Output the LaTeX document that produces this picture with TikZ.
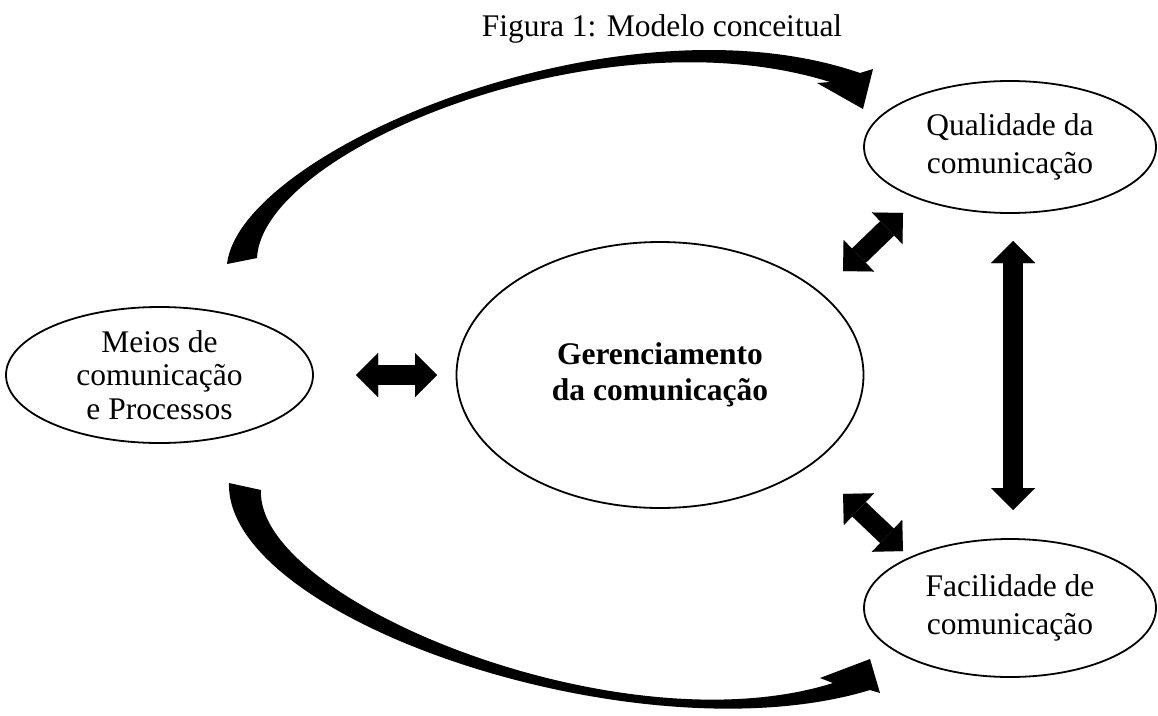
\documentclass[tikz,border=0pt]{standalone}
\usepackage{fontspec}
\setmainfont{Liberation Serif}
\usetikzlibrary{arrows.meta,shapes.geometric}
\begin{document}
\begin{tikzpicture}[x=1pt,y=-1pt,
  oval/.style={ellipse, draw, line width=1.8pt, inner sep=0pt, align=center},
  fat/.style={line width=20pt, {Triangle[width=44pt,length=22pt,line width=0.01pt]}-{Triangle[width=44pt,length=22pt,line width=0.01pt]}},
  blob/.style={fill=black}]
\useasboundingbox (0,0) rectangle (1158,715);
\node[font=\fontsize{31.5}{36}\selectfont, anchor=base, inner sep=0pt] (title) at (662,36) {Figura 1: Modelo conceitual};
\node[oval, minimum width=307pt, minimum height=136pt, font=\fontsize{31.5}{33.3}\selectfont] (meios) at (159.5,375) {Meios de\\comunicação\\e Processos};
\node[oval, minimum width=407pt, minimum height=266pt, font=\fontsize{31.5}{36}\selectfont\bfseries] (ger) at (660,375) {Gerenciamento\\da comunicação};
\node[oval, minimum width=292pt, minimum height=132pt, font=\fontsize{31.5}{38}\selectfont] (qual) at (1010,147) {Qualidade da\\comunicação};
\node[oval, minimum width=292pt, minimum height=138pt, font=\fontsize{31.5}{38}\selectfont] (fac) at (1010,608) {Facilidade de\\comunicação};
% straight double arrows
\coordinate (h1) at (356,375); \coordinate (h2) at (437,375);
\coordinate (v1) at (1013,241); \coordinate (v2) at (1013,510);
\coordinate (d1) at (843,271); \coordinate (d2) at (903,213);
\coordinate (e1) at (843,494); \coordinate (e2) at (903,551);
\draw[fat] (h1) -- (h2);
\draw[fat] (v1) -- (v2);
\draw[fat] (d1) -- (d2);
\draw[fat] (e1) -- (e2);
% top curved arrow
\coordinate (tO0) at (227,264); \coordinate (tI0) at (257,258);
\coordinate (tO1) at (860,73); \coordinate (tI1) at (830,82);
\coordinate (tB1) at (873,69); \coordinate (tB2) at (817,83);
\coordinate (tTip) at (863,109);
\fill[blob] (tO0) .. controls (240,150) and (620,-10) .. (tO1) -- (tB1) -- (tTip) -- (tB2) -- (tI1) .. controls (600,10) and (262,150) .. (tI0) -- cycle;
% bottom curved arrow
\coordinate (bO0) at (229,483); \coordinate (bI0) at (261,490);
\coordinate (bO1) at (870,690); \coordinate (bI1) at (833,683);
\coordinate (bB1) at (880,693); \coordinate (bB2) at (820,678);
\coordinate (bTip) at (870,659);
\fill[blob] (bO0) .. controls (225,620) and (640,760) .. (bO1) -- (bB1) -- (bTip) -- (bB2) -- (bI1) .. controls (620,750) and (255,600) .. (bI0) -- cycle;
\end{tikzpicture}
\end{document}
